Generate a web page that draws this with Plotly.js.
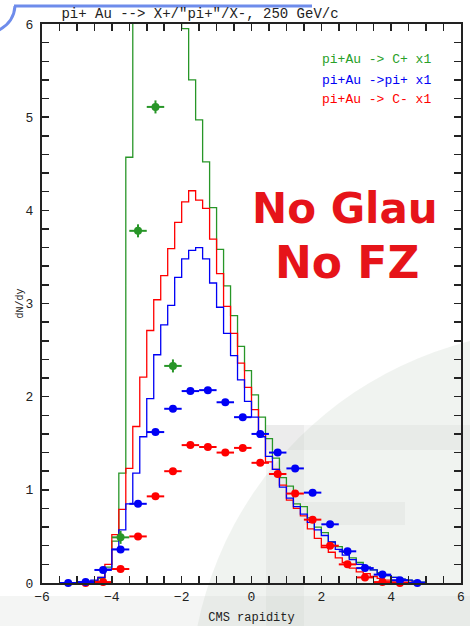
<!DOCTYPE html>
<html>
<head>
<meta charset="utf-8">
<script src="https://cdn.plot.ly/plotly-3.0.1.min.js"></script>
<style>
html,body{margin:0;padding:0;background:#fff;}
#chart{width:470px;height:626px;}
</style>
</head>
<body>
<div id="chart"></div>
<script>
// ---- histogram bins (CMS rapidity), width 0.2 ----
const binStart = -5.0;
const binWidth = 0.2;

// model histograms, one value per bin from -5.0 to 5.0
const histCplus = [0.00,0.01,0.02,0.05,0.17,0.45,1.18,4.57,7.00,7.50,
                   7.80,7.90,7.60,7.10,6.50,5.95,5.40,4.97,4.52,4.03,
                   3.58,3.19,2.87,2.54,2.28,2.02,1.78,1.55,1.34,1.13,
                   1.04,0.85,0.82,0.70,0.60,0.54,0.44,0.39,0.33,0.27,
                   0.22,0.17,0.14,0.11,0.08,0.06,0.04,0.03,0.02,0.01];
const histPiplus = [0.01,0.02,0.03,0.06,0.15,0.36,0.57,0.85,1.18,1.57,
                    1.98,2.45,2.77,2.98,3.28,3.48,3.57,3.60,3.48,3.22,
                    2.96,2.68,2.44,2.18,1.95,1.78,1.57,1.36,1.22,1.03,
                    0.91,0.82,0.74,0.65,0.57,0.51,0.44,0.36,0.30,0.25,
                    0.20,0.17,0.14,0.10,0.08,0.06,0.04,0.03,0.02,0.01];
const histCminus = [0.00,0.01,0.02,0.06,0.20,0.52,0.79,1.23,1.68,2.21,
                    2.71,3.04,3.30,3.59,3.87,4.09,4.21,4.11,4.02,3.69,
                    3.32,2.97,2.68,2.36,2.10,1.86,1.60,1.30,1.22,1.05,
                    0.89,0.80,0.72,0.58,0.48,0.38,0.33,0.27,0.22,0.16,
                    0.12,0.10,0.07,0.05,0.03,0.02,0.01,0.01,0.00,0.00];

// measured points
const ptCplusX = [-3.75,-3.25,-2.75,-2.25];
const ptCplusY = [0.49,3.78,5.11,2.33];
const ptPiplusX = [-5.25,-4.75,-4.25,-3.75,-3.25,-2.75,-2.25,-1.75,-1.25,-0.75,-0.25,0.25,0.75,1.25,1.75,2.25,2.75,3.25,3.75,4.25,4.75];
const ptPiplusY = [0.00,0.01,0.14,0.36,0.85,1.62,1.87,2.06,2.07,1.94,1.78,1.60,1.40,1.23,0.97,0.63,0.34,0.16,0.09,0.03,0.00];
const ptCminusX = [-4.75,-4.25,-3.75,-3.25,-2.75,-2.25,-1.75,-1.25,-0.75,-0.25,0.25,0.75,1.25,1.75,2.25,2.75,3.25,3.75,4.25];
const ptCminusY = [0.00,0.01,0.15,0.50,0.93,1.20,1.48,1.46,1.40,1.45,1.29,1.17,0.96,0.68,0.40,0.20,0.06,0.01,0.00];
const ptHalfWidth = 0.25;
const ptCplusErr = 0.07;
const ptOtherErr = 0.03;

const legendLabels = ["pi+Au -> C+ x1", "pi+Au ->pi+ x1", "pi+Au -> C- x1"];
const titleText = 'pi+ Au --> X+/"pi+"/X-, 250 GeV/c';

const GREEN = 'rgb(40,150,40)', BLUE = 'rgb(0,0,245)', RED = 'rgb(255,0,0)';

function stepTrace(vals, color) {
  const xs = [], ys = [];
  for (let i = 0; i < vals.length; i++) { xs.push(+(binStart + i*binWidth).toFixed(2)); ys.push(vals[i]); }
  xs.push(+(binStart + vals.length*binWidth).toFixed(2)); ys.push(vals[vals.length-1]);
  return {x: xs, y: ys, type: 'scatter', mode: 'lines', line: {shape: 'hv', color: color, width: 1.3},
          hoverinfo: 'skip', showlegend: false};
}
function pointTrace(xs, ys, color, yerr) {
  return {x: xs, y: ys, type: 'scatter', mode: 'markers',
    marker: {color: color, size: 8, symbol: 'circle'},
    error_x: {type: 'constant', value: ptHalfWidth, color: color, thickness: 2, width: 0},
    error_y: {type: 'constant', value: yerr, color: color, thickness: 2, width: 0},
    cliponaxis: false, showlegend: false};
}

const data = [
  stepTrace(histCplus, GREEN),
  stepTrace(histCminus, RED),
  stepTrace(histPiplus, BLUE),
  pointTrace(ptCplusX, ptCplusY, GREEN, ptCplusErr),
  pointTrace(ptCminusX, ptCminusY, RED, ptOtherErr),
  pointTrace(ptPiplusX, ptPiplusY, BLUE, ptOtherErr)
];

// pixel helpers for decorations (plot area: x 42..461, y 24..583)
const PX = p => (p - 42) / 419;
const PY = p => (583 - p) / 559;

const font = 'Liberation Mono, DejaVu Sans Mono, monospace';
const axisCommon = {
  showline: true, mirror: 'ticks', linecolor: '#222', linewidth: 2,
  ticks: 'inside', tickcolor: '#222', tickwidth: 1.5, ticklen: 7,
  showgrid: false, zeroline: false,
  tickfont: {family: font, size: 13, color: '#222'}
};

const layout = {
  width: 470, height: 626,
  margin: {l: 42, r: 9, t: 24, b: 43},
  paper_bgcolor: '#ffffff', plot_bgcolor: 'rgba(0,0,0,0)',
  title: {text: titleText, font: {family: font, size: 14, color: '#222'},
          xref: 'paper', x: PX(200), xanchor: 'center', yref: 'container', y: 1 - 13/626, yanchor: 'middle'},
  xaxis: Object.assign({}, axisCommon, {
    range: [-6, 6], tickmode: 'array', tickvals: [-6,-4,-2,0,2,4,6],
    minor: {dtick: 0.5, ticks: 'inside', ticklen: 7, tickcolor: '#222', tickwidth: 1.5},
    title: {text: 'CMS rapidity', font: {family: font, size: 12, color: '#222'}, standoff: 9}
  }),
  yaxis: Object.assign({}, axisCommon, {
    range: [0, 6], tickmode: 'array', tickvals: [0,1,2,3,4,5,6],
    minor: {dtick: 0.2, ticks: 'inside', ticklen: 7, tickcolor: '#222', tickwidth: 1.5},
    ticklabelstandoff: 4,
    title: {text: 'dN/dy', font: {family: font, size: 10, color: '#222'}, standoff: 0}
  }),
  shapes: [
    // faint watermark background
    {type: 'circle', xref: 'paper', yref: 'paper', layer: 'below',
     x0: PX(190), x1: PX(930), y0: PY(1070), y1: PY(330),
     fillcolor: 'rgba(205,215,205,0.3)', line: {width: 0}},
    {type: 'rect', xref: 'paper', yref: 'paper', layer: 'below',
     x0: PX(266), x1: PX(304), y0: PY(626), y1: PY(425),
     fillcolor: 'rgba(190,190,190,0.16)', line: {width: 0}},
    {type: 'rect', xref: 'paper', yref: 'paper', layer: 'below',
     x0: PX(266), x1: PX(470), y0: PY(450), y1: PY(425),
     fillcolor: 'rgba(190,190,190,0.16)', line: {width: 0}},
    {type: 'rect', xref: 'paper', yref: 'paper', layer: 'below',
     x0: PX(304), x1: PX(405), y0: PY(525), y1: PY(502),
     fillcolor: 'rgba(190,190,190,0.16)', line: {width: 0}},
    {type: 'rect', xref: 'paper', yref: 'paper', layer: 'below',
     x0: PX(0), x1: PX(470), y0: PY(626), y1: PY(596),
     fillcolor: 'rgba(200,205,200,0.2)', line: {width: 0}},
    // slide decoration top-left
    {type: 'line', xref: 'paper', yref: 'paper', x0: PX(14), x1: PX(312), y0: PY(6), y1: PY(6),
     line: {color: 'rgb(110,140,235)', width: 3}},
    {type: 'path', xref: 'paper', yref: 'paper',
     path: 'M ' + PX(-1) + ',' + PY(30) + ' Q ' + PX(14) + ',' + PY(22) + ' ' + PX(15) + ',' + PY(6),
     line: {color: 'rgb(110,140,235)', width: 3}}
  ],
  annotations: [
    {text: legendLabels[0], xref: 'paper', yref: 'paper', x: PX(433), y: PY(60), xanchor: 'right', yanchor: 'middle',
     showarrow: false, font: {family: font, size: 13, color: 'rgb(40,160,40)'}},
    {text: legendLabels[1], xref: 'paper', yref: 'paper', x: PX(433), y: PY(80), xanchor: 'right', yanchor: 'middle',
     showarrow: false, font: {family: font, size: 13, color: BLUE}},
    {text: legendLabels[2], xref: 'paper', yref: 'paper', x: PX(433), y: PY(99), xanchor: 'right', yanchor: 'middle',
     showarrow: false, font: {family: font, size: 13, color: RED}},
    {text: '<b>No Glau</b>', xref: 'paper', yref: 'paper', x: PX(345), y: PY(208), xanchor: 'center', yanchor: 'middle',
     showarrow: false, font: {family: 'DejaVu Sans, sans-serif', size: 42, color: 'rgb(230,20,25)'}},
    {text: '<b>No FZ</b>', xref: 'paper', yref: 'paper', x: PX(347), y: PY(262), xanchor: 'center', yanchor: 'middle',
     showarrow: false, font: {family: 'DejaVu Sans, sans-serif', size: 44, color: 'rgb(230,20,25)'}}
  ],
  showlegend: false
};

Plotly.newPlot('chart', data, layout, {displayModeBar: false, staticPlot: true});
</script>
</body>
</html>
